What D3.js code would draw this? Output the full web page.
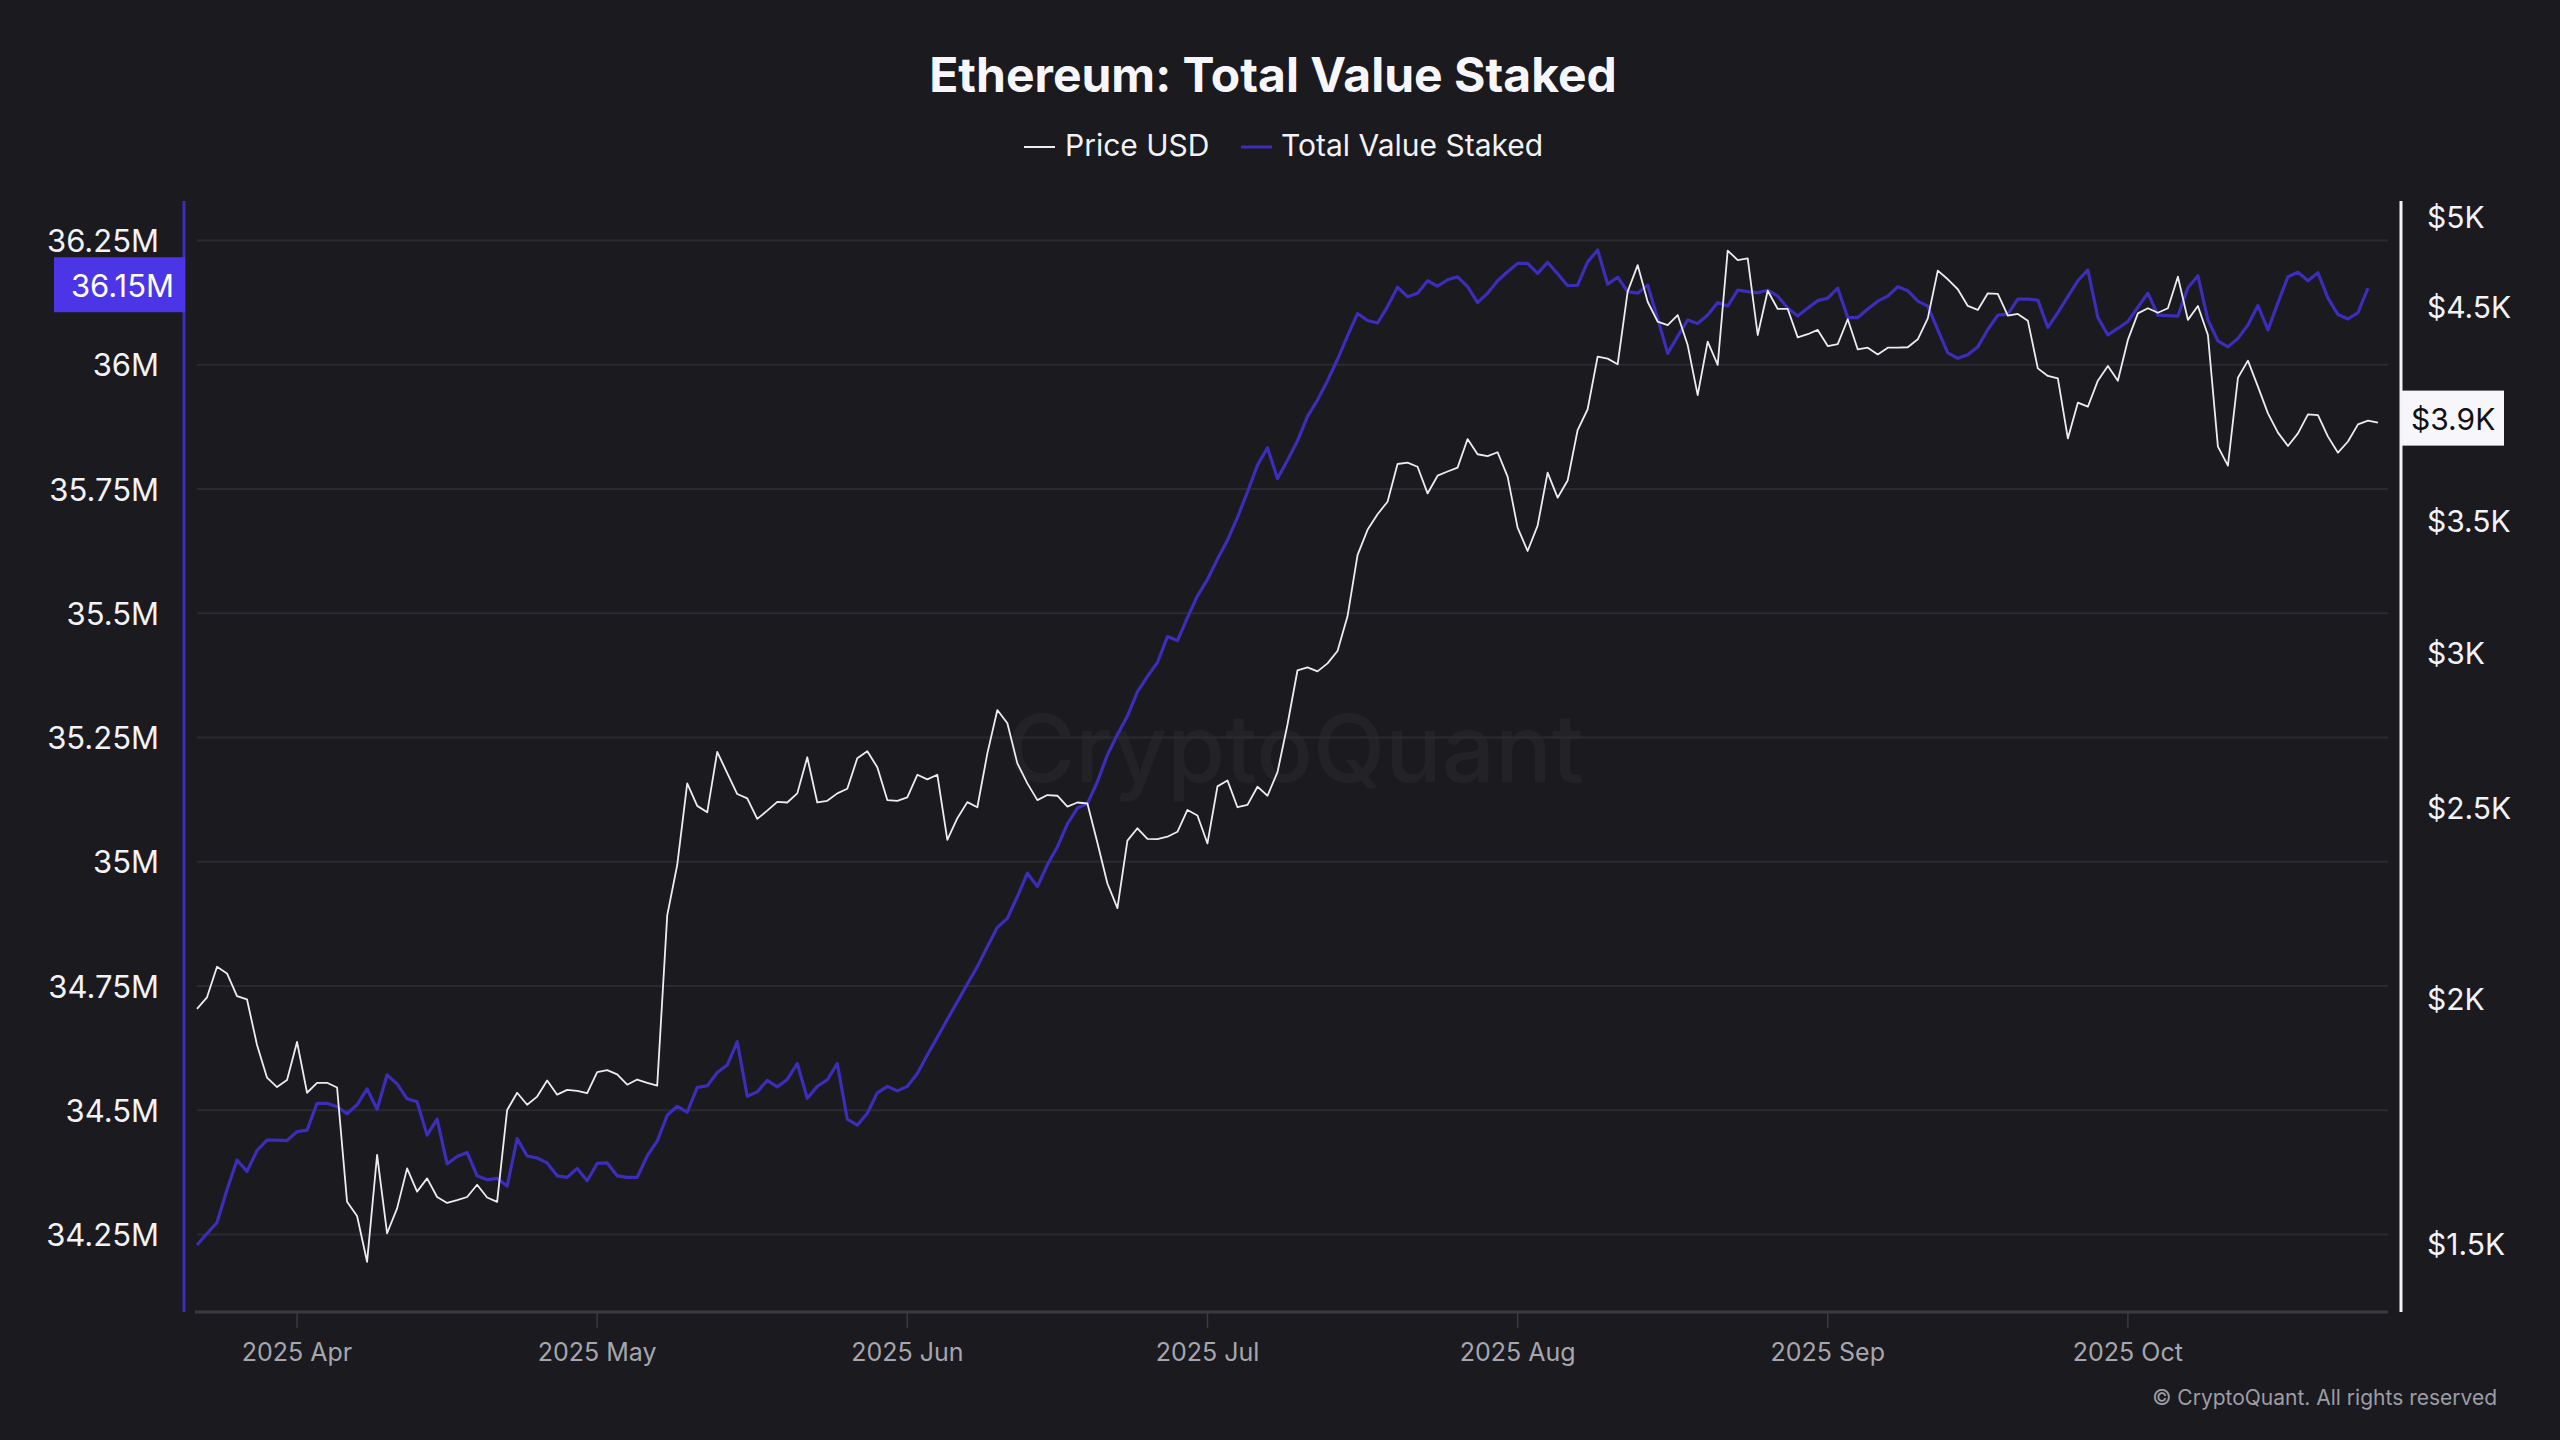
<!DOCTYPE html>
<html>
<head>
<meta charset="utf-8">
<script src="https://cdn.jsdelivr.net/npm/d3@7"></script>
<style>
html, body { margin: 0; padding: 0; background: #1a1a1f; }
svg { display: block; font-family: Inter, "Noto Sans", sans-serif; }
</style>
</head>
<body>
<svg id="chart" width="2560" height="1440"></svg>
<script>
// daily points, first one is 2025-03-22
var startDate = new Date(Date.UTC(2025, 2, 22));

// Total Value Staked, millions of ETH (ends one day before price)
var stakedValues = [
  34.229, 34.252, 34.274, 34.340, 34.400, 34.377, 34.419, 34.440, 34.440, 34.439,
  34.457, 34.460, 34.514, 34.514, 34.507, 34.493, 34.511, 34.543, 34.502, 34.571,
  34.553, 34.523, 34.517, 34.450, 34.482, 34.392, 34.407, 34.415, 34.368, 34.360,
  34.363, 34.347, 34.443, 34.408, 34.404, 34.394, 34.368, 34.365, 34.383, 34.358,
  34.393, 34.394, 34.368, 34.365, 34.365, 34.408, 34.438, 34.490, 34.508, 34.496,
  34.546, 34.549, 34.576, 34.591, 34.638, 34.528, 34.537, 34.560, 34.547, 34.562,
  34.594, 34.524, 34.548, 34.561, 34.594, 34.482, 34.470, 34.494, 34.535, 34.548,
  34.539, 34.548, 34.574, 34.611, 34.647, 34.683, 34.718, 34.754, 34.789, 34.829,
  34.868, 34.886, 34.930, 34.977, 34.950, 34.994, 35.030, 35.076, 35.108, 35.117,
  35.161, 35.215, 35.256, 35.293, 35.342, 35.373, 35.401, 35.453, 35.445, 35.491,
  35.535, 35.568, 35.609, 35.647, 35.693, 35.744, 35.798, 35.833, 35.771, 35.808,
  35.847, 35.896, 35.929, 35.968, 36.011, 36.058, 36.103, 36.089, 36.084, 36.117,
  36.156, 36.137, 36.144, 36.169, 36.158, 36.171, 36.177, 36.157, 36.125, 36.144,
  36.169, 36.187, 36.204, 36.204, 36.184, 36.206, 36.183, 36.159, 36.160, 36.207,
  36.231, 36.162, 36.176, 36.147, 36.144, 36.160, 36.093, 36.023, 36.057, 36.090,
  36.083, 36.100, 36.125, 36.118, 36.150, 36.147, 36.145, 36.150, 36.138, 36.114,
  36.098, 36.114, 36.129, 36.134, 36.154, 36.095, 36.095, 36.112, 36.128, 36.138,
  36.157, 36.149, 36.128, 36.118, 36.070, 36.024, 36.013, 36.020, 36.036, 36.071,
  36.100, 36.102, 36.132, 36.132, 36.130, 36.075, 36.105, 36.137, 36.169, 36.191,
  36.095, 36.060, 36.073, 36.087, 36.116, 36.144, 36.100, 36.099, 36.098, 36.155,
  36.179, 36.090, 36.048, 36.036, 36.053, 36.080, 36.119, 36.070, 36.125, 36.177,
  36.186, 36.169, 36.185, 36.134, 36.101, 36.092, 36.105, 36.154
];

// ETH price, USD
var priceValues = [
  1976, 2003, 2076, 2060, 2006, 1998, 1894, 1823, 1803, 1818,
  1901, 1791, 1812, 1812, 1802, 1576, 1550, 1469, 1665, 1519,
  1564, 1639, 1595, 1620, 1585, 1574, 1579, 1585, 1608, 1584,
  1576, 1755, 1791, 1766, 1783, 1817, 1787, 1797, 1795, 1790,
  1835, 1839, 1830, 1808, 1819, 1812, 1806, 2205, 2339, 2574,
  2507, 2488, 2671, 2605, 2542, 2529, 2469, 2493, 2519, 2517,
  2544, 2654, 2517, 2522, 2544, 2558, 2651, 2673, 2623, 2524,
  2522, 2532, 2600, 2586, 2600, 2409, 2471, 2518, 2503, 2666,
  2805, 2762, 2635, 2574, 2524, 2539, 2537, 2505, 2517, 2514,
  2401, 2289, 2224, 2407, 2442, 2412, 2411, 2418, 2432, 2495,
  2479, 2399, 2565, 2583, 2503, 2510, 2564, 2537, 2608, 2758,
  2939, 2949, 2935, 2963, 3006, 3131, 3364, 3465, 3529, 3581,
  3743, 3749, 3731, 3616, 3692, 3710, 3727, 3854, 3786, 3778,
  3795, 3688, 3474, 3380, 3482, 3705, 3598, 3671, 3895, 3991,
  4245, 4235, 4207, 4581, 4726, 4527, 4423, 4405, 4457, 4303,
  4058, 4320, 4204, 4807, 4754, 4763, 4354, 4586, 4489, 4489,
  4342, 4358, 4380, 4298, 4308, 4435, 4281, 4290, 4256, 4290,
  4290, 4292, 4332, 4440, 4695, 4648, 4594, 4505, 4484, 4572,
  4569, 4454, 4463, 4428, 4187, 4150, 4138, 3857, 4022, 4003,
  4127, 4199, 4127, 4329, 4466, 4493, 4469, 4493, 4662, 4432,
  4505, 4354, 3820, 3736, 4141, 4225, 4098, 3972, 3883, 3823,
  3880, 3967, 3964, 3865, 3793, 3843, 3921, 3938, 3929
];

var leftTicks = [34.25, 34.5, 34.75, 35, 35.25, 35.5, 35.75, 36, 36.25];
var rightTicks = [1500, 2000, 2500, 3000, 3500, 4500, 5000];
var monthTicks = [
  new Date(Date.UTC(2025, 3, 1)), new Date(Date.UTC(2025, 4, 1)),
  new Date(Date.UTC(2025, 5, 1)), new Date(Date.UTC(2025, 6, 1)),
  new Date(Date.UTC(2025, 7, 1)), new Date(Date.UTC(2025, 8, 1)),
  new Date(Date.UTC(2025, 9, 1))
];
var monthLabels = ["2025 Apr", "2025 May", "2025 Jun", "2025 Jul", "2025 Aug", "2025 Sep", "2025 Oct"];

var PURPLE = "#3c2dbb",
    TAG_PURPLE = "#4b35e6",
    WHITE = "#ececf2",
    GRID = "#2a2a30";

var svg = d3.select("#chart"),
    WIDTH = 2560,
    HEIGHT = 1440,
    PLOT = { top: 201, bottom: 1312, left: 197, right: 2388 };

svg.append("rect").attr("width", WIDTH).attr("height", HEIGHT).attr("fill", "#1a1a1f");

var xScale = d3.scaleUtc()
    .domain([startDate, new Date(Date.UTC(2025, 9, 27))])
    .range([PLOT.left, PLOT.right]);

var yLeft = d3.scaleLinear()
    .domain([34.25, 36.25])
    .range([1234.5, 240.5]);

var yRight = d3.scaleLog()
    .domain([1500, 5000])
    .range([1244, 217]);

function dayOf(i) { return d3.utcDay.offset(startDate, i); }

// watermark
svg.append("text")
    .attr("x", 1295).attr("y", 748)
    .attr("text-anchor", "middle").attr("dominant-baseline", "central")
    .attr("font-size", 94).attr("font-weight", 500)
    .attr("fill", "#ffffff").attr("fill-opacity", 0.04)
    .text("CryptoQuant");

// gridlines (left axis)
svg.append("g").selectAll("line")
    .data(leftTicks)
    .join("line")
    .attr("x1", PLOT.left).attr("x2", PLOT.right)
    .attr("y1", d => yLeft(d)).attr("y2", d => yLeft(d))
    .attr("stroke", GRID).attr("stroke-width", 2);

// left axis labels
svg.append("g").selectAll("text")
    .data(leftTicks)
    .join("text")
    .attr("x", 159).attr("y", d => yLeft(d))
    .attr("text-anchor", "end").attr("dominant-baseline", "central")
    .attr("font-size", 31).attr("fill", "#f2f2f7")
    .text(d => (+d.toFixed(2)) + "M");

// right axis labels
svg.append("g").selectAll("text")
    .data(rightTicks)
    .join("text")
    .attr("x", 2427).attr("y", d => yRight(d))
    .attr("text-anchor", "start").attr("dominant-baseline", "central")
    .attr("font-size", 30).attr("fill", "#f2f2f7")
    .text(d => "$" + (d / 1000) + "K");

// x axis
var xAxis = svg.append("g");
xAxis.append("line")
    .attr("x1", 195).attr("x2", PLOT.right)
    .attr("y1", PLOT.bottom).attr("y2", PLOT.bottom)
    .attr("stroke", "#3a3a42").attr("stroke-width", 3);
xAxis.selectAll(".tick")
    .data(monthTicks)
    .join("line")
    .attr("x1", d => xScale(d)).attr("x2", d => xScale(d))
    .attr("y1", PLOT.bottom).attr("y2", PLOT.bottom + 16)
    .attr("stroke", "#3a3a42").attr("stroke-width", 1.5);
xAxis.selectAll("text")
    .data(monthTicks)
    .join("text")
    .attr("x", d => xScale(d)).attr("y", 1352)
    .attr("text-anchor", "middle").attr("dominant-baseline", "central")
    .attr("font-size", 25).attr("fill", "#a6a6ae")
    .text((d, i) => monthLabels[i]);

// axis lines
svg.append("line")
    .attr("x1", 184).attr("x2", 184).attr("y1", PLOT.top).attr("y2", PLOT.bottom)
    .attr("stroke", PURPLE).attr("stroke-width", 3);
svg.append("line")
    .attr("x1", 2401).attr("x2", 2401).attr("y1", PLOT.top).attr("y2", PLOT.bottom)
    .attr("stroke", "#f4f4f8").attr("stroke-width", 3);

// lines
var stakedLine = d3.line()
    .x((d, i) => xScale(dayOf(i)))
    .y(d => yLeft(d));

var priceLine = d3.line()
    .x((d, i) => xScale(dayOf(i)))
    .y(d => yRight(d));

svg.append("path")
    .attr("d", stakedLine(stakedValues))
    .attr("fill", "none").attr("stroke", PURPLE)
    .attr("stroke-width", 3.2).attr("stroke-linejoin", "round");

svg.append("path")
    .attr("d", priceLine(priceValues))
    .attr("fill", "none").attr("stroke", WHITE)
    .attr("stroke-width", 1.8).attr("stroke-linejoin", "round");

// last value tags
var lastStaked = stakedValues[stakedValues.length - 1],
    lastPrice = priceValues[priceValues.length - 1];

var leftTagY = yLeft(lastStaked) - 3;
svg.append("rect")
    .attr("x", 54).attr("y", leftTagY - 28).attr("width", 131).attr("height", 55)
    .attr("fill", TAG_PURPLE);
svg.append("text")
    .attr("x", 174).attr("y", leftTagY)
    .attr("text-anchor", "end").attr("dominant-baseline", "central")
    .attr("font-size", 31).attr("fill", "#ffffff")
    .text(lastStaked.toFixed(2) + "M");

var rightTagY = yRight(lastPrice) - 4;
svg.append("rect")
    .attr("x", 2402).attr("y", rightTagY - 28).attr("width", 102).attr("height", 55)
    .attr("fill", "#f7f7fb");
svg.append("text")
    .attr("x", 2411).attr("y", rightTagY)
    .attr("text-anchor", "start").attr("dominant-baseline", "central")
    .attr("font-size", 30).attr("fill", "#111116")
    .text("$" + (lastPrice / 1000).toFixed(1) + "K");

// title
svg.append("text")
    .attr("x", 1273).attr("y", 74)
    .attr("text-anchor", "middle").attr("dominant-baseline", "central")
    .attr("font-size", 48).attr("font-weight", 700).attr("fill", "#f7f7fb")
    .text("Ethereum: Total Value Staked");

// legend
var legend = svg.append("g");
legend.append("line")
    .attr("x1", 1024).attr("x2", 1055).attr("y1", 147).attr("y2", 147)
    .attr("stroke", WHITE).attr("stroke-width", 2);
legend.append("text")
    .attr("x", 1065).attr("y", 145)
    .attr("dominant-baseline", "central")
    .attr("font-size", 30).attr("fill", "#f2f2f7")
    .text("Price USD");
legend.append("line")
    .attr("x1", 1241).attr("x2", 1272).attr("y1", 147).attr("y2", 147)
    .attr("stroke", PURPLE).attr("stroke-width", 3);
legend.append("text")
    .attr("x", 1281).attr("y", 145)
    .attr("dominant-baseline", "central")
    .attr("font-size", 30).attr("fill", "#f2f2f7")
    .text("Total Value Staked");

// copyright
svg.append("text")
    .attr("x", 2497).attr("y", 1397)
    .attr("text-anchor", "end").attr("dominant-baseline", "central")
    .attr("font-size", 21).attr("fill", "#9d9da6")
    .text("\u00A9 CryptoQuant. All rights reserved");
</script>
</body>
</html>
